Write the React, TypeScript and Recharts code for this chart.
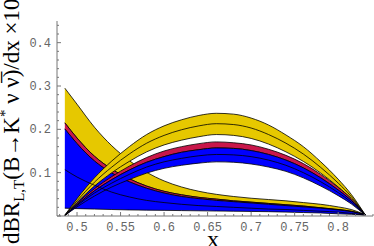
import * as React from "react";
import { ComposedChart, Area, Line, XAxis, YAxis } from "recharts";

// x = E/m_B sample points
const xs = [0.486, 0.5, 0.52, 0.54, 0.56, 0.58, 0.6, 0.62, 0.64, 0.66, 0.68, 0.7, 0.72, 0.74, 0.76, 0.78, 0.8, 0.815, 0.831];

// transverse component (falls from the left)
const tYu = [0.295, 0.258, 0.205, 0.162, 0.128, 0.101, 0.081, 0.067, 0.057, 0.05, 0.045, 0.041, 0.038, 0.035, 0.031, 0.027, 0.021, 0.015, 0.003];
const tRu = [0.215, 0.18, 0.138, 0.108, 0.086, 0.069, 0.057, 0.049, 0.043, 0.039, 0.035, 0.032, 0.029, 0.026, 0.023, 0.019, 0.015, 0.011, 0.003];
const tBu = [0.201, 0.167, 0.127, 0.099, 0.079, 0.064, 0.053, 0.045, 0.04, 0.036, 0.033, 0.03, 0.027, 0.024, 0.021, 0.018, 0.014, 0.01, 0.003];
const tC = [0.107, 0.09, 0.071, 0.055, 0.044, 0.036, 0.031, 0.027, 0.024, 0.022, 0.02, 0.018, 0.016, 0.015, 0.013, 0.011, 0.009, 0.006, 0.002];
const tBl = [0.018, 0.017, 0.016, 0.015, 0.014, 0.0135, 0.013, 0.0125, 0.012, 0.0115, 0.011, 0.0105, 0.01, 0.009, 0.008, 0.007, 0.005, 0.004, 0.002];

// longitudinal component (arch)
const lYu = [0.002, 0.04, 0.088, 0.127, 0.16, 0.188, 0.208, 0.222, 0.232, 0.237, 0.235, 0.226, 0.21, 0.187, 0.16, 0.125, 0.085, 0.05, 0.003];
const lYc = [0.002, 0.035, 0.078, 0.113, 0.143, 0.168, 0.186, 0.199, 0.208, 0.213, 0.211, 0.203, 0.188, 0.168, 0.143, 0.112, 0.076, 0.045, 0.003];
const lYl = [0.002, 0.031, 0.069, 0.1, 0.126, 0.148, 0.164, 0.175, 0.183, 0.188, 0.186, 0.179, 0.166, 0.148, 0.126, 0.099, 0.067, 0.04, 0.003];
const lRu = [0.001, 0.029, 0.063, 0.091, 0.115, 0.135, 0.15, 0.16, 0.167, 0.171, 0.169, 0.164, 0.154, 0.14, 0.121, 0.096, 0.066, 0.04, 0.003];
const lBu = [0.001, 0.026, 0.058, 0.084, 0.106, 0.124, 0.137, 0.147, 0.153, 0.157, 0.156, 0.151, 0.142, 0.129, 0.111, 0.088, 0.06, 0.036, 0.003];
const lC = [0.001, 0.024, 0.053, 0.076, 0.096, 0.113, 0.125, 0.133, 0.139, 0.142, 0.141, 0.137, 0.129, 0.117, 0.1, 0.079, 0.054, 0.032, 0.002];
const lBl = [0.001, 0.021, 0.046, 0.067, 0.084, 0.099, 0.11, 0.117, 0.122, 0.125, 0.124, 0.12, 0.113, 0.103, 0.088, 0.069, 0.047, 0.028, 0.002];

const xTicks: number[] = [];
for (let i = 48; i <= 84; i++) xTicks.push(i / 100);
const yTicks: number[] = [];
for (let i = 0; i <= 22; i++) yTicks.push(i / 50);

const data = xs.map((x, i) => ({
  x,
  tY: [tRu[i], tYu[i]],
  tR: [tBu[i], tRu[i]],
  tB: [tBl[i], tBu[i]],
  tC: tC[i],
  lY: [lYl[i], lYu[i]],
  lYc: lYc[i],
  lR: [lBu[i], lRu[i]],
  lB: [lBl[i], lBu[i]],
  lC: lC[i],
}));

const YELLOW = "#e6c800";
const RED = "#c8174a";
const BLUE = "#0000ff";
const FRAME = "#777";
const TXT = "#666";
const mono = "'Liberation Mono', 'DejaVu Sans Mono', monospace";
const serif = "'Liberation Serif', 'DejaVu Serif', serif";

const isMajorX = (v: number) => Math.abs(v * 20 - Math.round(v * 20)) < 1e-6;
const isMajorY = (v: number) => Math.abs(v * 10 - Math.round(v * 10)) < 1e-6;

function tickFor(side: "bottom" | "top" | "left" | "right") {
  return (props: any) => {
    const { x, y, payload } = props;
    const v = payload.value as number;
    const major = side === "bottom" || side === "top" ? isMajorX(v) : isMajorY(v);
    const len = major ? 4 : 2;
    let line;
    if (side === "bottom") line = <line x1={x} y1={y} x2={x} y2={y - len} stroke={FRAME} />;
    else if (side === "top") line = <line x1={x} y1={y} x2={x} y2={y + len} stroke={FRAME} />;
    else if (side === "left") line = <line x1={x} y1={y} x2={x + len} y2={y} stroke={FRAME} />;
    else line = <line x1={x} y1={y} x2={x - len} y2={y} stroke={FRAME} />;
    let label = null;
    if (major && side === "bottom") {
      label = (
        <text x={x} y={y + 15} textAnchor="middle" fontFamily={mono} fontSize={12} fill={TXT}>
          {String(v)}
        </text>
      );
    } else if (major && side === "left" && v > 0 && v < 0.45) {
      label = (
        <text x={x - 6} y={y + 4} textAnchor="end" fontFamily={mono} fontSize={12} fill={TXT}>
          {v.toFixed(1)}
        </text>
      );
    }
    return (
      <g>
        {line}
        {label}
      </g>
    );
  };
}

const YLabel = () => (
  <text transform="translate(19, 244) rotate(-90)" fontFamily={serif} fontSize={23} fill="#000">
    <tspan>dBR</tspan>
    <tspan fontSize={15} dy={5}>L,T</tspan>
    <tspan dy={-5}>(B→K</tspan>
    <tspan fontSize={15} dy={-9}>*</tspan>
    <tspan dy={9}> ν ν̅)/dx ×10</tspan>
    <tspan fontSize={15} dy={-10}>4</tspan>
  </text>
);

const XLabel = () => (
  <text x={213} y={247} textAnchor="middle" fontFamily={serif} fontSize={24} fill="#000">
    x
  </text>
);

const edge = { stroke: "#000", strokeWidth: 0.8, fillOpacity: 1, isAnimationActive: false, type: "monotone" as const, dot: false, activeDot: false };

export default function App() {
  return (
    <div style={{ position: "absolute", left: 0, top: 0, width: 374, height: 246, background: "#fff" }}>
      <ComposedChart width={374} height={246} data={data} margin={{ top: 21, right: 1, bottom: 0, left: 0 }}>
        <XAxis
          xAxisId="b"
          dataKey="x"
          type="number"
          domain={[0.477, 0.84]}
          allowDataOverflow
          ticks={xTicks}
          interval={0}
          height={30}
          tickSize={0}
          tickMargin={0}
          stroke={FRAME}
          tick={tickFor("bottom")}
          label={{ content: () => <XLabel /> }}
        />
        <XAxis
          xAxisId="t"
          dataKey="x"
          type="number"
          orientation="top"
          domain={[0.477, 0.84]}
          allowDataOverflow
          ticks={xTicks}
          interval={0}
          height={0}
          tickSize={0}
          tickMargin={0}
          stroke={FRAME}
          tick={tickFor("top")}
        />
        <YAxis
          yAxisId="l"
          type="number"
          domain={[0, 0.45]}
          allowDataOverflow
          ticks={yTicks}
          interval={0}
          width={57}
          tickSize={0}
          tickMargin={0}
          stroke={FRAME}
          tick={tickFor("left")}
          label={{ content: () => <YLabel /> }}
        />
        <YAxis
          yAxisId="r"
          type="number"
          orientation="right"
          domain={[0, 0.45]}
          allowDataOverflow
          ticks={yTicks}
          interval={0}
          width={0}
          tickSize={0}
          tickMargin={0}
          stroke={FRAME}
          tick={tickFor("right")}
        />

        <Area xAxisId="b" yAxisId="l" dataKey="tY" fill={YELLOW} {...edge} />
        <Area xAxisId="b" yAxisId="l" dataKey="tR" fill={RED} {...edge} />
        <Area xAxisId="b" yAxisId="l" dataKey="tB" fill={BLUE} {...edge} />
        <Line xAxisId="b" yAxisId="l" dataKey="tC" stroke="#000" strokeWidth={0.8} type="monotone" dot={false} isAnimationActive={false} />

        <Area xAxisId="b" yAxisId="l" dataKey="lY" fill={YELLOW} {...edge} />
        <Line xAxisId="b" yAxisId="l" dataKey="lYc" stroke="#000" strokeWidth={0.8} type="monotone" dot={false} isAnimationActive={false} />
        <Area xAxisId="b" yAxisId="l" dataKey="lR" fill={RED} {...edge} />
        <Area xAxisId="b" yAxisId="l" dataKey="lB" fill={BLUE} {...edge} />
        <Line xAxisId="b" yAxisId="l" dataKey="lC" stroke="#000" strokeWidth={0.8} type="monotone" dot={false} isAnimationActive={false} />
      </ComposedChart>
    </div>
  );
}
